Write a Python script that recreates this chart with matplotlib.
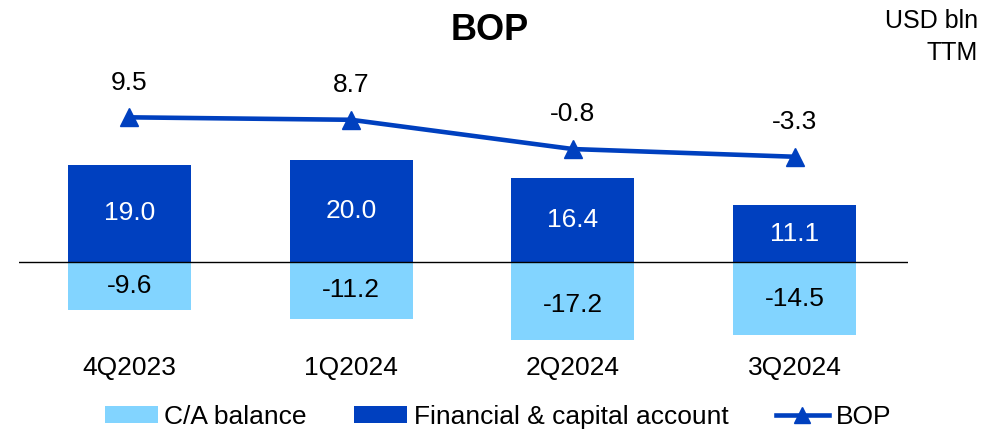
import matplotlib
matplotlib.use("Agg")
import matplotlib.pyplot as plt
from matplotlib.patches import Patch
from matplotlib.lines import Line2D

plt.rcParams['font.family'] = ['Liberation Sans', 'DejaVu Sans']

categories = ["4Q2023", "1Q2024", "2Q2024", "3Q2024"]
ca_balance = [-9.6, -11.2, -17.2, -14.5]
fin_capital = [19.0, 20.0, 16.4, 11.1]
bop = [9.5, 8.7, -0.8, -3.3]

DARK = "#0040BF"
LIGHT = "#82D4FF"
FS = 19

fig = plt.figure(figsize=(9.94, 4.32), dpi=100)
ax = fig.add_axes([0.0191, 0.213, 0.8944, 0.648])
x = list(range(len(categories)))
w = 0.555

ax.bar(x, fin_capital, width=w, color=DARK, zorder=2)
ax.bar(x, ca_balance, width=w, color=LIGHT, zorder=2)
ax.axhline(0, color="black", lw=1.0, zorder=3)
ax.set_xlim(-0.498, 3.512)
ax.set_ylim(-15.41, 39.7)

for xi, v in zip(x, fin_capital):
    ax.text(xi, v / 2, f"{v:.1f}", ha="center", va="center", color="white", fontsize=FS, zorder=4)
for xi, v in zip(x, ca_balance):
    ax.text(xi, v / 2, f"{v:.1f}", ha="center", va="center", color="black", fontsize=FS, zorder=4)

for xi, lab in zip(x, categories):
    ax.annotate(lab, xy=(xi, 0), xycoords=("data", "axes fraction"), xytext=(0, -20.2),
                textcoords="offset points", ha="center", va="center", fontsize=FS,
                annotation_clip=False)

for s in ax.spines.values():
    s.set_visible(False)
ax.set_xticks([])
ax.set_yticks([])

ax2 = ax.twinx()
ax2.plot(x, bop, color=DARK, lw=3.3, marker="^", markersize=13, zorder=5)
ax2.set_ylim(-62.8, 28.1)
for xi, v in zip(x, bop):
    ax2.annotate(f"{v:.1f}", xy=(xi, v), xytext=(0, 25), textcoords="offset points",
                 ha="center", va="center", fontsize=FS)
for s in ax2.spines.values():
    s.set_visible(False)
ax2.set_yticks([])
ax2.set_xticks([])

fig.text(490 / 994, 1 - 30 / 432, "BOP", ha="center", va="center", fontsize=26, fontweight="bold")
fig.text(978 / 994, 1 - 9 / 432, "USD bln\nTTM", ha="right", va="top", fontsize=18, linespacing=1.4)

handles = [Patch(facecolor=LIGHT, edgecolor="none"),
           Patch(facecolor=DARK, edgecolor="none"),
           Line2D([0], [0], color=DARK, lw=3.3, marker="^", markersize=11)]
labels = ["C/A balance", "Financial & capital account", "BOP"]
fig.legend(handles, labels, loc="center", bbox_to_anchor=(498 / 994, 1 - 417 / 432), ncol=3,
           frameon=False, fontsize=FS, handlelength=2.0, handleheight=0.6, handletextpad=0.25,
           columnspacing=1.8, borderaxespad=0, borderpad=0)

fig.savefig("out.png", dpi=100)
